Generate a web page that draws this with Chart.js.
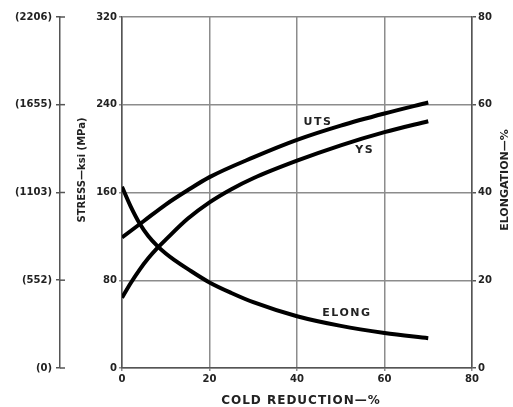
<!DOCTYPE html>
<html>
<head>
<meta charset="utf-8">
<script src="https://cdn.jsdelivr.net/npm/chart.js@4/dist/chart.umd.min.js"></script>
<style>
  body { margin: 0; background: #fff; }
  canvas { display: block; }
</style>
</head>
<body>
<canvas id="coldChart" width="513" height="407"></canvas>
<script>
// cold reduction (%) vs strength / elongation
var utsX = [0, 5, 10, 15, 20, 30, 40, 50, 60, 70]
var utsKsi = [119, 134, 149, 162, 174, 192, 208, 221, 232, 242]
var ysX = [0, 2, 4, 6, 8, 10, 15, 20, 25, 30, 40, 50, 60, 70]
var ysKsi = [64, 77.5, 89.5, 100, 109, 117, 136, 151, 163, 173, 189, 203, 215, 225]
var elongX = [0, 2, 4, 6, 8, 10, 12, 15, 20, 25, 30, 40, 50, 60, 70]
var elongPct = [41.3, 36.8, 33.0, 30.1, 27.9, 26.1, 24.6, 22.6, 19.5, 17.1, 15.0, 11.8, 9.6, 8.0, 6.8]
var mpaTicks = [0, 552, 1103, 1655, 2206]

// curve labels, placed in data units
var curveLabels = [
    { text: 'UTS', x: 44.8, y: 224, axis: 'y' },
    { text: 'YS', x: 55.5, y: 199, axis: 'y' },
    { text: 'ELONG', x: 51.4, y: 12.5, axis: 'y2' }
]

function toPoints(xs, ys) {
    return xs.map(function(x, i) { return { x: x, y: ys[i] } })
}

var gridGray = '#8c8c8c'
var axisGray = '#555'
var tickFont = { family: 'DejaVu Sans', size: 10, weight: 'bold' }

var lineStyle = {
    borderColor: '#000',
    borderWidth: 4,
    pointRadius: 0,
    fill: false,
    cubicInterpolationMode: 'monotone'
}

// extra bits: "+" ticks on the MPa axis, axis titles, curve labels
var extras = {
    id: 'extras',
    afterDraw: function(chart) {
        var ctx = chart.ctx
        var mpa = chart.scales.mpa
        ctx.save()
        ctx.strokeStyle = axisGray
        ctx.lineWidth = 1.5
        mpaTicks.forEach(function(v) {
            var py = mpa.getPixelForValue(v)
            ctx.beginPath()
            ctx.moveTo(mpa.right, py)
            ctx.lineTo(mpa.right + 5, py)
            ctx.stroke()
        })

        ctx.fillStyle = '#222'
        ctx.textAlign = 'center'
        ctx.textBaseline = 'middle'

        ctx.font = 'bold 10px "DejaVu Sans"'
        ctx.save()
        ctx.translate(82, 170)
        ctx.rotate(-Math.PI / 2)
        ctx.fillText('STRESS\u2014ksi (MPa)', 0, 0)
        ctx.restore()

        ctx.font = 'bold 11px "DejaVu Sans"'
        ctx.save()
        ctx.translate(505, 180)
        ctx.rotate(-Math.PI / 2)
        ctx.fillText('ELONGATION\u2014%', 0, 0)
        ctx.restore()

        ctx.font = 'bold 12px "DejaVu Sans"'
        ctx.letterSpacing = '1px'
        ctx.fillText('COLD REDUCTION\u2014%', 301, 401)

        ctx.font = 'bold 11px "DejaVu Sans"'
        ctx.letterSpacing = '1.5px'
        curveLabels.forEach(function(l) {
            var px = chart.scales.x.getPixelForValue(l.x)
            var py = chart.scales[l.axis].getPixelForValue(l.y)
            ctx.fillText(l.text, px, py)
        })
        ctx.restore()
    }
}

var coldCanvas = document.getElementById('coldChart').getContext('2d')
var coldChart = new Chart(coldCanvas, {
    type: 'line',
    data: {
        datasets: [
            Object.assign({ label: 'UTS', data: toPoints(utsX, utsKsi), yAxisID: 'y' }, lineStyle),
            Object.assign({ label: 'YS', data: toPoints(ysX, ysKsi), yAxisID: 'y' }, lineStyle),
            Object.assign({ label: 'ELONG', data: toPoints(elongX, elongPct), yAxisID: 'y2' }, lineStyle)
        ]
    },
    options: {
        responsive: false,
        animation: false,
        layout: { padding: { top: 17, left: 0, right: 0, bottom: 0 } },
        plugins: {
            legend: { display: false },
            tooltip: { enabled: false }
        },
        scales: {
            x: {
                type: 'linear',
                min: 0,
                max: 80,
                ticks: { stepSize: 20, color: '#222', font: tickFont, padding: 2, maxRotation: 0 },
                grid: { color: gridGray, lineWidth: 1.5, tickLength: 3 },
                border: { color: axisGray, width: 1.5 },
                afterFit: function(s) { s.height = 39 }
            },
            y: {
                position: 'left',
                weight: 0,
                min: 0,
                max: 320,
                ticks: { stepSize: 80, color: '#222', font: tickFont, padding: 2 },
                grid: { color: gridGray, lineWidth: 1.5, tickLength: 3 },
                border: { color: axisGray, width: 1.5 },
                afterFit: function(s) { s.width = 62 }
            },
            mpa: {
                position: 'left',
                weight: 1,
                min: 0,
                max: 2206,
                afterBuildTicks: function(s) {
                    s.ticks = mpaTicks.map(function(v) { return { value: v } })
                },
                ticks: {
                    color: '#222',
                    font: tickFont,
                    padding: 4,
                    callback: function(v) { return '(' + v + ')' }
                },
                grid: { drawOnChartArea: false, color: axisGray, lineWidth: 1.5, tickLength: 4 },
                border: { color: axisGray, width: 1.5 },
                afterFit: function(s) { s.width = 60 }
            },
            y2: {
                position: 'right',
                min: 0,
                max: 80,
                ticks: { stepSize: 20, color: '#222', font: tickFont, padding: 2 },
                grid: { drawOnChartArea: false, color: axisGray, lineWidth: 1.5, tickLength: 4 },
                border: { color: axisGray, width: 1.5 },
                afterFit: function(s) { s.width = 41 }
            }
        }
    },
    plugins: [extras]
})
</script>
</body>
</html>
